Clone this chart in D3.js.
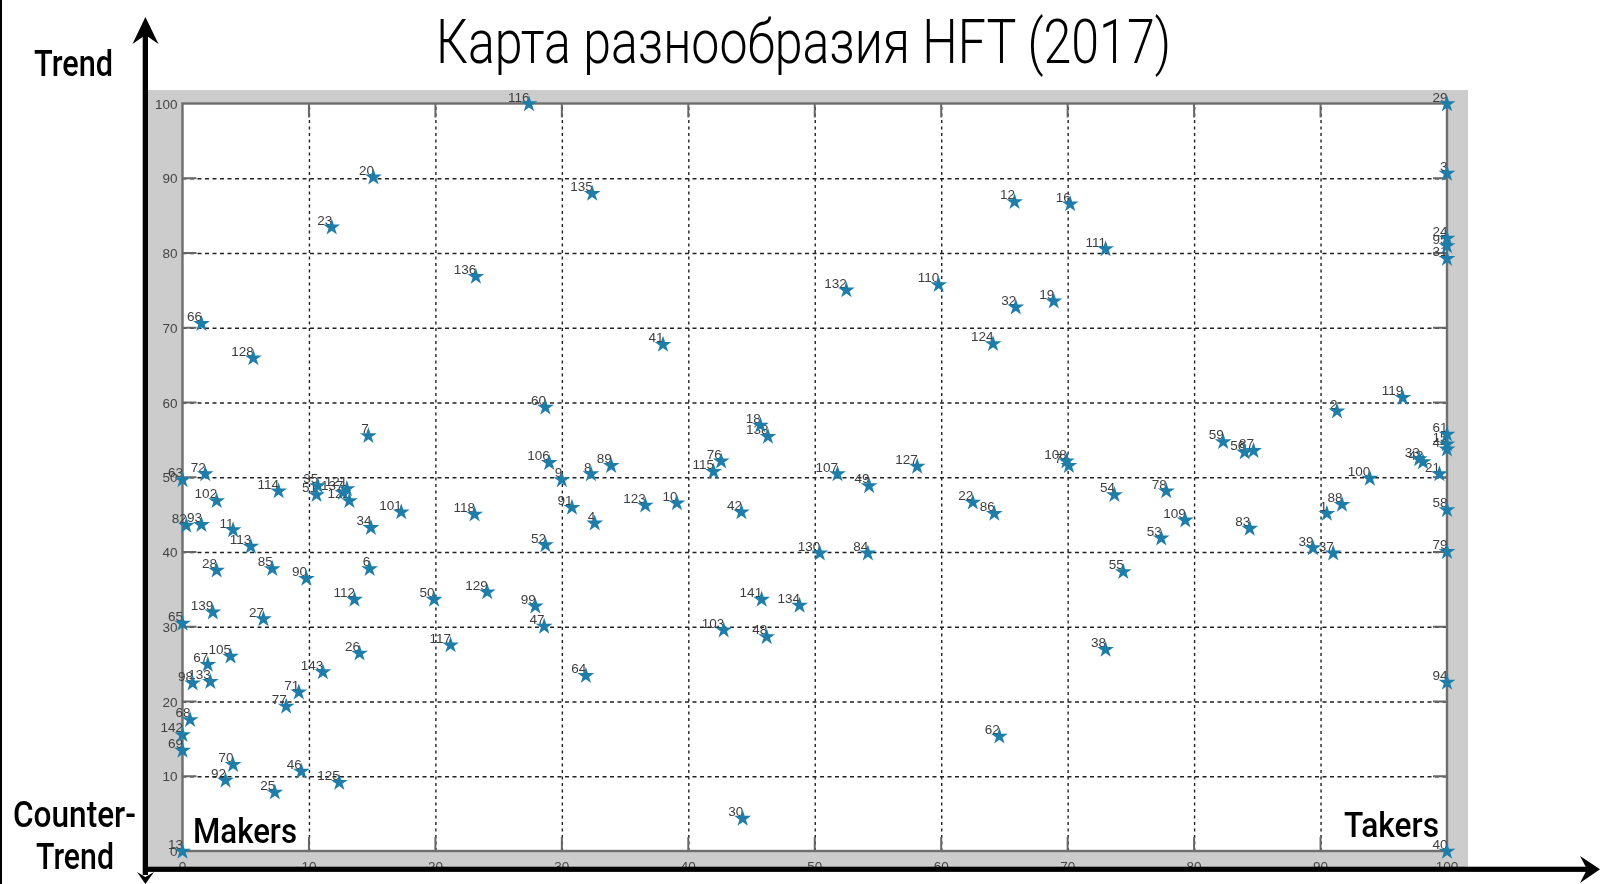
<!DOCTYPE html>
<html><head><meta charset="utf-8">
<script src="https://cdn.jsdelivr.net/npm/d3@7"></script>
<style>html,body{margin:0;padding:0;background:#fff;overflow:hidden}svg{display:block}</style>
</head><body><svg id="c" width="1600" height="884"></svg>
<script>
const titleText = "Карта разнообразия HFT (2017)";
const ids = [116,29,20,135,23,12,16,3,24,95,31,111,136,132,110,32,19,66,128,41,124,60,2,119,7,18,138,61,15,44,59,56,87,33,43,21,100,106,8,89,76,115,107,127,108,74,9,49,72,63,114,35,51,137,121,122,102,101,118,82,93,11,113,34,91,4,123,10,42,22,86,54,78,109,53,83,88,1,58,79,39,37,52,130,84,28,85,6,90,55,112,50,129,99,47,141,134,139,27,65,103,48,117,38,26,105,67,143,64,98,133,94,71,77,68,62,142,69,70,92,46,125,25,30,13,40];
const xVals = [27.4,100,15.1,32.4,11.8,65.8,70.2,100,100,100,100,73,23.2,52.5,59.8,65.9,68.9,1.5,5.6,38,64.1,28.7,91.3,96.5,14.7,45.7,46.3,100,100,100,82.3,84,84.7,97.8,98.1,99.4,93.9,29,32.3,33.9,42.6,42,51.8,58.1,69.9,70.1,30,54.3,1.8,0,7.6,10.7,10.6,12.7,13,13.2,2.7,17.3,23.1,0.3,1.5,4,5.4,14.9,30.8,32.6,36.6,39.1,44.2,62.5,64.2,73.7,77.8,79.3,77.4,84.4,91.7,90.5,100,100,89.4,91,28.7,50.4,54.2,2.7,7.1,14.8,9.8,74.4,13.6,19.9,24.1,27.9,28.6,45.8,48.8,2.4,6.4,0,42.8,46.2,21.2,73,14,3.8,2,11.1,31.9,0.8,2.2,100,9.2,8.2,0.6,64.6,0,0,4,3.4,9.4,12.4,7.3,44.3,0,100];
const yVals = [100,100,90.2,88,83.5,86.9,86.6,90.7,82,81,79.3,80.6,76.9,75.1,75.8,72.8,73.6,70.6,66,67.8,67.9,59.4,58.9,60.7,55.6,57,55.5,55.8,54.5,53.8,54.8,53.4,53.6,52.5,52.1,50.5,49.9,52,50.5,51.6,52.2,50.8,50.5,51.5,52.2,51.6,49.7,48.9,50.5,49.7,48.2,48.9,47.7,48,48.5,46.9,46.9,45.4,45.1,43.6,43.7,43,40.8,43.3,46,43.9,46.3,46.6,45.4,46.7,45.2,47.7,48.2,44.3,41.9,43.2,46.4,45.2,45.7,40.1,40.6,39.9,41,39.9,39.9,37.6,37.8,37.8,36.5,37.4,33.7,33.7,34.7,32.8,30.1,33.7,32.9,32,31.1,30.5,29.6,28.7,27.6,27,26.5,26.1,25,24,23.5,22.5,22.7,22.6,21.3,19.4,17.6,15.4,15.6,13.5,11.6,9.5,10.7,9.2,7.9,4.4,0,0];
const tickVals = [0,10,20,30,40,50,60,70,80,90,100];

const svg = d3.select("#c");
const x = d3.scaleLinear().domain([0,100]).range([182.5,1447]);
const y = d3.scaleLinear().domain([0,100]).range([851,103.5]);

// left page edge + gray figure background
svg.append("rect").attr("x",0).attr("y",0).attr("width",2).attr("height",884).attr("fill","#000");
svg.append("rect").attr("x",148).attr("y",90).attr("width",1320).attr("height",778).attr("fill","#cccccc");
svg.append("rect").attr("x",x(0)).attr("y",y(100)).attr("width",x(100)-x(0)).attr("height",y(0)-y(100)).attr("fill","#fff");

const plot = svg.append("g").style("filter","blur(0.45px)");

// grid
plot.append("g").attr("transform",`translate(0,${y(0)})`)
  .call(d3.axisBottom(x).tickValues(tickVals.slice(1,-1)).tickSize(-(y(0)-y(100))).tickFormat(""))
  .call(g=>{g.select(".domain").remove();g.selectAll("line").attr("stroke","#222").attr("stroke-width",1.4).attr("stroke-dasharray","3 3.5");});
plot.append("g").attr("transform",`translate(${x(0)},0)`)
  .call(d3.axisLeft(y).tickValues(tickVals.slice(1,-1)).tickSize(-(x(100)-x(0))).tickFormat(""))
  .call(g=>{g.select(".domain").remove();g.selectAll("line").attr("stroke","#222").attr("stroke-width",1.4).attr("stroke-dasharray","4 3.5");});

// inside tick marks on all four sides
const tl = 14;
const tickStyle = s=>s.attr("stroke","#666").attr("stroke-width",2);
tickVals.slice(1,-1).forEach(v=>{
  plot.append("line").attr("x1",x(v)).attr("x2",x(v)).attr("y1",y(0)).attr("y2",y(0)-tl).call(tickStyle);
  plot.append("line").attr("x1",x(v)).attr("x2",x(v)).attr("y1",y(100)).attr("y2",y(100)+tl).call(tickStyle);
  plot.append("line").attr("y1",y(v)).attr("y2",y(v)).attr("x1",x(0)).attr("x2",x(0)+tl).call(tickStyle);
  plot.append("line").attr("y1",y(v)).attr("y2",y(v)).attr("x1",x(100)).attr("x2",x(100)-tl).call(tickStyle);
});
plot.append("rect").attr("x",x(0)).attr("y",y(100)).attr("width",x(100)-x(0)).attr("height",y(0)-y(100))
  .attr("fill","none").attr("stroke","#6e6e6e").attr("stroke-width",2.4);

// tick labels
const tickFont = `13.5px "Liberation Sans",Arial,sans-serif`;
plot.append("g").selectAll("text").data(tickVals).join("text")
  .attr("x",v=>x(v)).attr("y",871).attr("text-anchor","middle")
  .style("font",tickFont).attr("fill","#444").text(d=>d);
plot.append("g").selectAll("text").data(tickVals).join("text")
  .attr("x",177.5).attr("y",v=>y(v)+5).attr("text-anchor","end")
  .style("font",tickFont).attr("fill","#444").text(d=>d);

// point labels and stars
const pts = ids.map((id,i)=>({id,x:xVals[i],y:yVals[i]}));
plot.append("g").selectAll("text").data(pts).join("text")
  .attr("x",d=>x(d.x)+0.5).attr("y",d=>y(d.y)-2).attr("text-anchor","end")
  .style("font",`13.5px "Liberation Sans",Arial,sans-serif`).attr("fill","#3d3d3d").text(d=>d.id);
const star = d3.symbol().type(d3.symbolStar).size(88);
plot.append("g").selectAll("path").data(pts).join("path")
  .attr("transform",d=>`translate(${x(d.x)},${y(d.y)+0.5})`)
  .attr("d",star).attr("fill","#1f7ea9");

// arrows
const arrows = svg.append("g").attr("fill","#000");
arrows.append("rect").attr("x",142.7).attr("y",30).attr("width",5.3).attr("height",845);
arrows.append("rect").attr("x",148).attr("y",866.7).attr("width",1440).attr("height",5.2);
arrows.append("path").attr("d",d3.line()([[145.4,17],[158.5,44],[145.4,35],[132.5,44]])+"Z");
arrows.append("path").attr("d",d3.line()([[145.4,884],[154,872],[145.4,877],[137,872]])+"Z");
arrows.append("path").attr("d",d3.line()([[1600,869.3],[1580,856],[1587,869.3],[1580,883]])+"Z");

// title and annotations
function label(t,x0,x1,base,size,weight,family){
  svg.append("text").attr("x",x0).attr("y",base).attr("textLength",x1-x0).attr("lengthAdjust","spacingAndGlyphs")
    .style("font",`${weight} ${size}px ${family}`).attr("fill","#000").text(t);
}
const fam = `Roboto,"Liberation Sans",sans-serif`;
label(titleText,436,1171,63,62,300,fam);
label("Trend",34,113,76,36,500,fam);
label("Counter-",13,136,827,36,500,fam);
label("Trend",36,114,869,36,500,fam);
label("Makers",193,297,843,35,500,fam);
label("Takers",1344,1439,837,35,500,fam);
</script></body></html>
